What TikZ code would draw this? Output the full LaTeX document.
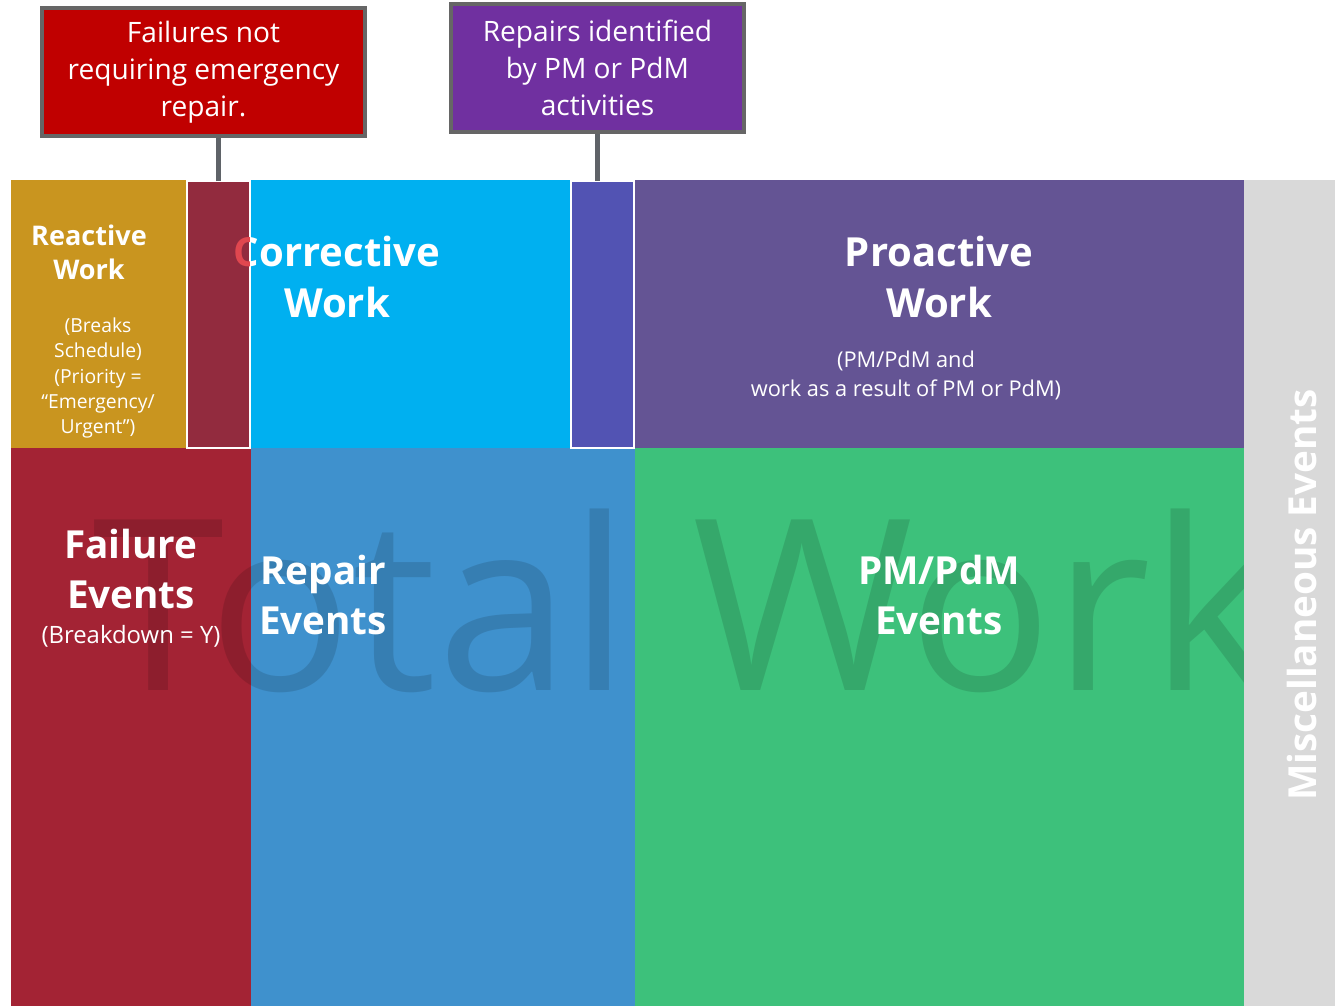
\documentclass[tikz,border=0pt]{standalone}
\usepackage{fontspec}
\setmainfont{Open Sans}
\definecolor{reactgold}{HTML}{C9951F}
\definecolor{corrblue}{HTML}{00B0F0}
\definecolor{proviolet}{HTML}{645494}
\definecolor{failred}{HTML}{A32334}
\definecolor{repblue}{HTML}{3F91CD}
\definecolor{pmgreen}{HTML}{3DC17B}
\definecolor{miscgray}{HTML}{D9D9D9}
\definecolor{stripred}{HTML}{922B3E}
\definecolor{stripblue}{HTML}{5253B3}
\definecolor{callred}{HTML}{C00000}
\definecolor{callpurple}{HTML}{7030A0}
\definecolor{callframe}{HTML}{666666}
\definecolor{stemgray}{HTML}{5F6368}
\definecolor{ghostred}{HTML}{E0474F}
\begin{document}
\begin{tikzpicture}[x=1cm, y=-1cm,
	panel/.style={rectangle, anchor=north west, inner sep=0pt, outer sep=0pt},
	strip/.style={panel, draw=white, line width=0.7pt},
	callout/.style={rectangle, draw=callframe, line width=1pt, inner sep=0pt,
		text=white, align=center, font=\fontsize{8}{10.5}\selectfont},
	bigtitle/.style={text=white, align=center, font=\bfseries\fontsize{11.4}{14.5}\selectfont},
	subtext/.style={text=white, align=center, font=\fontsize{6.2}{8.25}\selectfont}]
	
	\useasboundingbox (0,0) rectangle (13.35,10.06);
	
	% Top row
	\node [panel, fill=reactgold, minimum width=1.76cm, minimum height=2.68cm] (reactive) at (0.11,1.80){};
	\node [panel, fill=corrblue, minimum width=3.20cm, minimum height=2.68cm] (corrective) at (2.51,1.80){};
	\node [panel, fill=proviolet, minimum width=6.09cm, minimum height=2.68cm] (proactive) at (6.35,1.80){};
	
	% Bottom row
	\node [panel, fill=failred, minimum width=2.40cm, minimum height=5.58cm] (failure) at (0.11,4.48){};
	\node [panel, fill=repblue, minimum width=3.84cm, minimum height=5.58cm] (repair) at (2.51,4.48){};
	\node [panel, fill=pmgreen, minimum width=6.09cm, minimum height=5.58cm] (pmpdm) at (6.35,4.48){};
	
	% Watermark
	\node [anchor=base west, inner sep=0pt, text=black, text opacity=0.13,
	font=\fontsize{68}{68}\selectfont] (ghost) at (0.92,6.90){Total Work};
	
	\node [panel, fill=miscgray, minimum width=0.91cm, minimum height=8.26cm] (misc) at (12.44,1.80){};
	\node [rotate=90, text=white, font=\bfseries\fontsize{11}{13}\selectfont] (misctext) at (13.02,5.95){Miscellaneous Events};
	
	% Titles
	\node [bigtitle, font=\bfseries\fontsize{7.7}{9.7}\selectfont] (reacttitle) at (0.89,2.52){Reactive\\Work};
	\node [subtext, font=\fontsize{5.5}{7.2}\selectfont] (reactsub) at (0.98,3.78){(Breaks\\Schedule)\\(Priority =\\“Emergency/\\Urgent”)};
	\node [bigtitle] (corrtitle) at (3.37,2.77){Corrective\\Work};
	\node [bigtitle] (protitle) at (9.39,2.77){Proactive\\Work};
	\node [subtext] (prosub) at (9.06,3.75){(PM/PdM and\\work as a result of PM or PdM)};
	\node [bigtitle, font=\bfseries\fontsize{11}{14.2}\selectfont] (failtitle) at (1.31,5.69){Failure\\Events};
	\node [subtext, font=\fontsize{6.8}{8}\selectfont] (failsub) at (1.31,6.36){(Breakdown = Y)};
	\node [bigtitle, font=\bfseries\fontsize{11}{14.2}\selectfont] (reptitle) at (3.23,5.95){Repair\\Events};
	\node [bigtitle, font=\bfseries\fontsize{11}{14.2}\selectfont] (pmtitle) at (9.39,5.95){PM/PdM\\Events};
	
	% Narrow strips
	\node [strip, fill=stripred, minimum width=0.63cm, minimum height=2.67cm] (nonemerg) at (1.87,1.81){};
	\node [strip, fill=stripblue, minimum width=0.63cm, minimum height=2.67cm] (pmrepair) at (5.71,1.81){};
	\begin{scope}
		\clip (nonemerg.north west) rectangle (nonemerg.south east);
		\node [bigtitle, text=ghostred] (corrghost) at (corrtitle.center){Corrective\\Work};
	\end{scope}
	
	% Callouts
	\node [callout, fill=callred, minimum width=3.23cm, minimum height=1.28cm] (failcall) at (2.035,0.72){Failures not\\requiring emergency\\repair.};
	\node [callout, fill=callpurple, minimum width=2.93cm, minimum height=1.28cm] (pmcall) at (5.975,0.68){Repairs identified\\by PM or PdM\\activities};
	
	\draw [stemgray, line width=1.4pt] (nonemerg.north) -- (nonemerg.north |- failcall.south);
	\draw [stemgray, line width=1.4pt] (pmcall.south) -- (pmcall.south |- pmrepair.north);
	
\end{tikzpicture}
\end{document}
